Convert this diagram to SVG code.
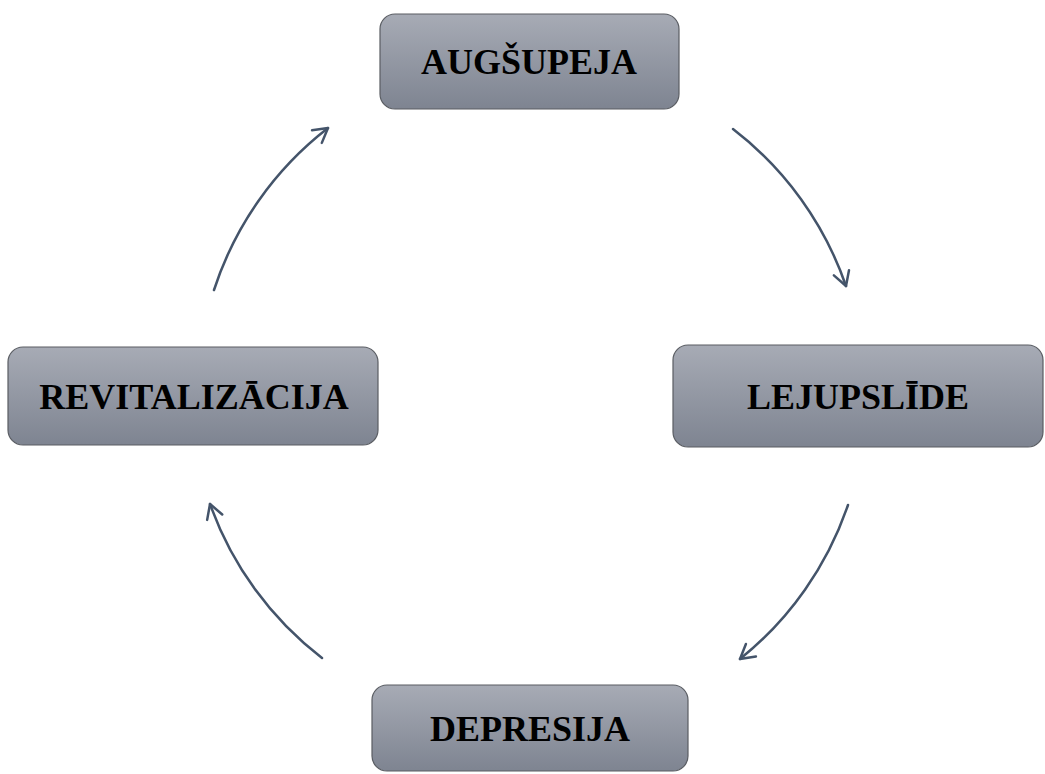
<svg xmlns="http://www.w3.org/2000/svg" width="1045" height="774" viewBox="0 0 1045 774">
<defs>
<linearGradient id="g" x1="0" y1="0" x2="0" y2="1">
<stop offset="0" stop-color="#a7abb5"/>
<stop offset="1" stop-color="#7e8491"/>
</linearGradient>
<marker id="ah" viewBox="0 0 20 20" refX="17" refY="10" markerWidth="20" markerHeight="20" markerUnits="userSpaceOnUse" orient="auto">
<path d="M3,2 L17,10 L3,18" fill="none" stroke="#44546a" stroke-width="2.5" stroke-linecap="round" stroke-linejoin="round"/>
</marker>
</defs>
<style>
.box{fill:url(#g);stroke:#5a5d63;stroke-width:1.2}
.lbl{font-family:"Liberation Serif","Times New Roman",serif;font-weight:bold;font-size:36px;fill:#000;text-anchor:middle;dominant-baseline:central}
.arr{fill:none;stroke:#44546a;stroke-width:2.5;stroke-linecap:round;marker-end:url(#ah)}
</style>
<rect width="1045" height="774" fill="#fff"/>
<g id="connectors">
<path class="arr" d="M733,129 A336,336 0 0 1 846,286"/>
<path class="arr" d="M848,505 A336,336 0 0 1 740,659"/>
<path class="arr" d="M322,658 A336,336 0 0 1 210,504"/>
<path class="arr" d="M214,290 A336,336 0 0 1 328,128"/>
</g>
<g id="augsupeja">
<rect class="box" x="380" y="14" width="299" height="95" rx="15"/>
<text class="lbl" x="529" y="62">AUGŠUPEJA</text>
</g>
<g id="lejupslide">
<rect class="box" x="673" y="345" width="370" height="102" rx="15"/>
<text class="lbl" x="858" y="397">LEJUPSLĪDE</text>
</g>
<g id="depresija">
<rect class="box" x="372" y="685" width="316" height="86" rx="15"/>
<text class="lbl" x="530" y="729">DEPRESIJA</text>
</g>
<g id="revitalizacija">
<rect class="box" x="8" y="347" width="370" height="98" rx="15"/>
<text class="lbl" x="194" y="397">REVITALIZĀCIJA</text>
</g>
</svg>
